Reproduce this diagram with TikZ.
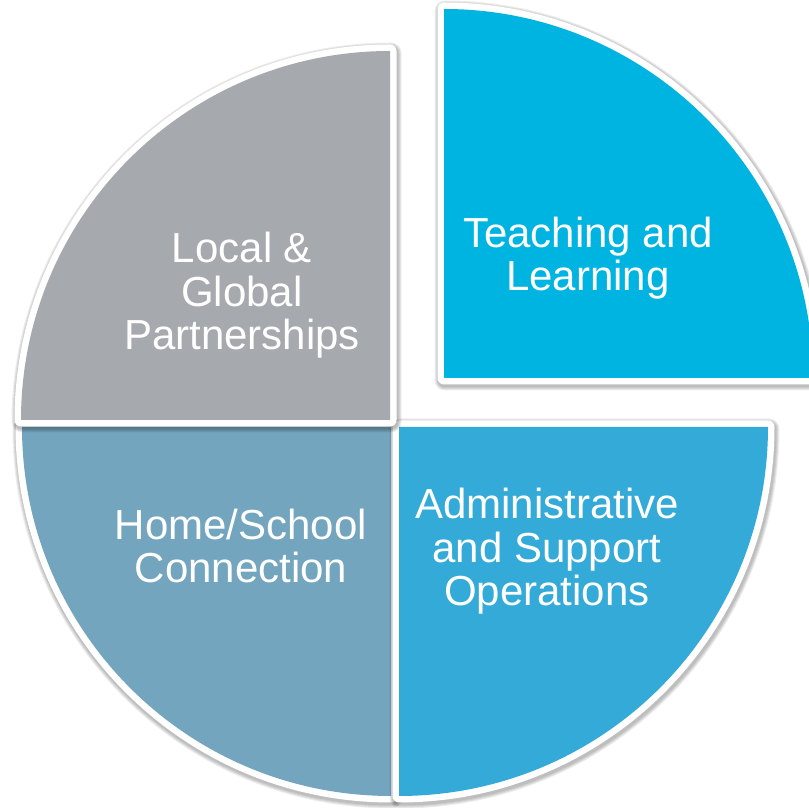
\documentclass[tikz,border=0pt]{standalone}
\usepackage{fontspec}
\setmainfont{Liberation Sans}
\usepackage{xcolor}
\usetikzlibrary{calc}
\definecolor{slicegray}{HTML}{A6A9AD}
\definecolor{slicecyan}{HTML}{00B4E1}
\definecolor{sliceblue}{HTML}{34AAD8}
\definecolor{slicesteel}{HTML}{73A5BF}
\tikzset{
  rim/.style     ={draw=white,line width=13*0.02cm,line join=round},
  halo/.style    ={draw=black,opacity=0.07,line join=round},
  label/.style   ={text=white,align=center,anchor=base,inner sep=0pt,
                   font=\fontsize{23.9}{25}\selectfont}
}
\newcommand{\slice}[2]{%
  \foreach \w in {15,17,19,21}
    \draw[halo,line width=\w*0.02cm,shift={(1,-2)}] #2;
  \draw[rim,fill=#1] #2;
  \fill[#1] #2;
}
\begin{document}
\begin{tikzpicture}[x=0.02cm,y=0.02cm]
    \useasboundingbox (0,0) rectangle (809,808);
    \clip (0,0) rectangle (809,808);
    % quarters, drawn back to front
    \slice{slicesteel}{(391,381) -- (391,12) arc[start angle=270,end angle=180,radius=369] -- cycle}
    \slice{sliceblue}{(399,381) -- (768,381) arc[start angle=0,end angle=-90,radius=369] -- cycle}
    \slice{slicegray}{(390,388) -- (21,388) arc[start angle=180,end angle=90,radius=369] -- cycle}
    \slice{slicecyan}{(444,430) -- (813,430) arc[start angle=0,end angle=90,radius=369] -- cycle}
    % texts (base = last line)
    \node[label] (teach) at (588,517) {Teaching and\\Learning};
    \node[label] (local) at (242,458) {Local \&\\Global\\Partnerships};
    \node[label] (home)  at (241,225) {Home/School\\Connection};
    \node[label] (admin) at (547,202) {Administrative\\and Support\\Operations};
\end{tikzpicture}
\end{document}
